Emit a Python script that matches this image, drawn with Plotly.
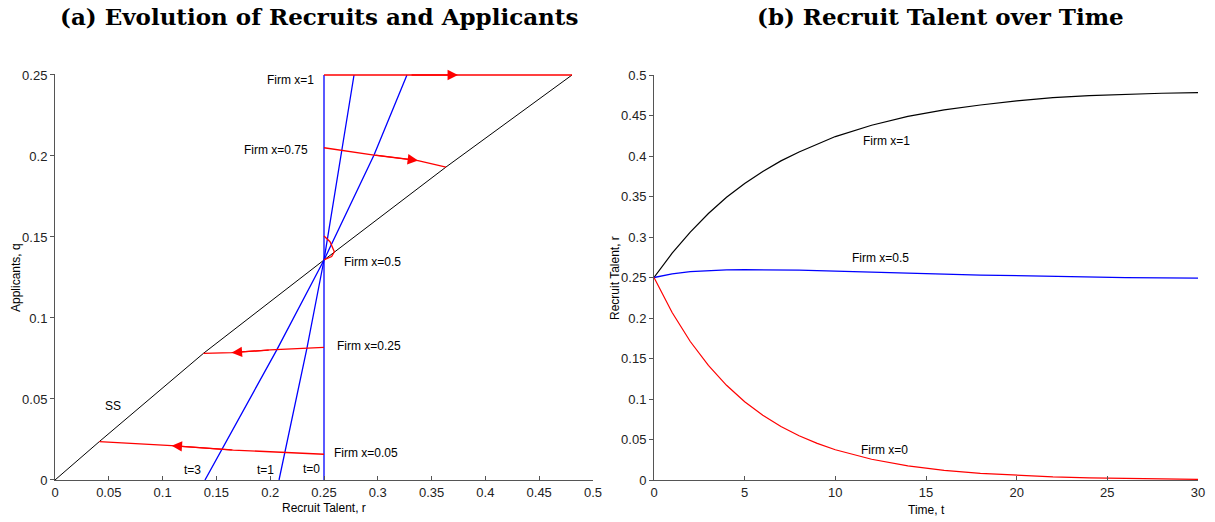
import plotly.graph_objects as go

# ---------------- Panel (a) data ----------------
ss_r = [0.0, 0.0412, 0.138, 0.25, 0.3634, 0.4805]
ss_q = [0.0, 0.0237, 0.0782, 0.1358, 0.1932, 0.25]

t0_r = [0.25, 0.25]
t0_q = [0.0, 0.25]
t1_r = [0.2082, 0.2342, 0.25, 0.2667, 0.2779]
t1_q = [0.0, 0.0815, 0.1358, 0.2037, 0.25]
t3_r = [0.1394, 0.206, 0.25, 0.2965, 0.3271]
t3_q = [0.0, 0.0802, 0.1358, 0.2006, 0.25]

f100_r = [0.25, 0.4805]
f100_q = [0.25, 0.25]
f075_r = [0.25, 0.2965, 0.3374, 0.3634]
f075_q = [0.2051, 0.2006, 0.1972, 0.1932]
f050_r = [0.25, 0.2556, 0.2596, 0.2571, 0.2509, 0.25]
f050_q = [0.1506, 0.1471, 0.1409, 0.1379, 0.1362, 0.1358]
f025_r = [0.25, 0.2, 0.1642, 0.138]
f025_q = [0.0819, 0.0803, 0.0786, 0.0782]
f005_r = [0.25, 0.1657, 0.1084, 0.0412]
f005_q = [0.0159, 0.0185, 0.0212, 0.0237]

# arrows: (tip_r, tip_q, tail_r, tail_q)
arrows = [
    (0.3745, 0.25, 0.33, 0.25),
    (0.3374, 0.1972, 0.2965, 0.2006),
    (0.1642, 0.0786, 0.2, 0.0803),
    (0.1084, 0.0212, 0.1657, 0.0185),
]

a_xticks = [0, 0.05, 0.1, 0.15, 0.2, 0.25, 0.3, 0.35, 0.4, 0.45, 0.5]
a_xticktext = ["0", "0.05", "0.1", "0.15", "0.2", "0.25", "0.3", "0.35", "0.4", "0.45", "0.5"]
a_yticks = [0, 0.05, 0.1, 0.15, 0.2, 0.25]
a_yticktext = ["0", "0.05", "0.1", "0.15", "0.2", "0.25"]

# ---------------- Panel (b) data ----------------
time_t = [0, 1, 2, 3, 4, 5, 6, 7, 8, 9, 10, 12, 14, 16, 18, 20, 22, 24, 26, 28, 30]
r_x1 = [0.250, 0.280, 0.306, 0.329, 0.349, 0.366, 0.381, 0.394, 0.405, 0.415, 0.424,
        0.438, 0.449, 0.457, 0.463, 0.468, 0.472, 0.4745, 0.4762, 0.4775, 0.4783]
r_x05 = [0.250, 0.2545, 0.2572, 0.2587, 0.2594, 0.2597, 0.2597, 0.2594, 0.2590, 0.2585, 0.2580,
         0.2568, 0.2555, 0.2542, 0.2530, 0.2520, 0.2511, 0.2504, 0.2499, 0.2495, 0.2492]
r_x0 = [0.250, 0.2068, 0.1710, 0.1414, 0.1169, 0.0967, 0.0800, 0.0661, 0.0547, 0.0452, 0.0374,
        0.0256, 0.0175, 0.0120, 0.0082, 0.0056, 0.0038, 0.0026, 0.0018, 0.0012, 0.0008]

b_xticks = [0, 5, 10, 15, 20, 25, 30]
b_yticks = [0, 0.05, 0.1, 0.15, 0.2, 0.25, 0.3, 0.35, 0.4, 0.45, 0.5]
b_yticktext = ["0", "0.05", "0.1", "0.15", "0.2", "0.25", "0.3", "0.35", "0.4", "0.45", "0.5"]

RED = "#ff0000"
BLUE = "#0000ff"
BLACK = "#000000"
AX = "#555555"
FONT = "Liberation Sans, Arial, sans-serif"

fig = go.Figure()

def line(x, y, color, width, xa="x", ya="y"):
    fig.add_trace(go.Scatter(x=x, y=y, mode="lines", line=dict(color=color, width=width),
                             xaxis=xa, yaxis=ya, showlegend=False, hoverinfo="skip"))

line(ss_r, ss_q, BLACK, 1)
line(t0_r, t0_q, BLUE, 1.3)
line(t1_r, t1_q, BLUE, 1.3)
line(t3_r, t3_q, BLUE, 1.3)
line(f100_r, f100_q, RED, 1.6)
line(f075_r, f075_q, RED, 1.3)
line(f050_r, f050_q, RED, 1.3)
line(f025_r, f025_q, RED, 1.3)
line(f005_r, f005_q, RED, 1.3)

line(time_t, r_x1, BLACK, 1.2, "x2", "y2")
line(time_t, r_x05, BLUE, 1.3, "x2", "y2")
line(time_t, r_x0, RED, 1.2, "x2", "y2")

for tip_r, tip_q, tail_r, tail_q in arrows:
    fig.add_annotation(x=tip_r, y=tip_q, ax=tail_r, ay=tail_q, xref="x", yref="y",
                       axref="x", ayref="y", text="", showarrow=True, arrowhead=2,
                       arrowsize=1.6, arrowwidth=1.3, arrowcolor=RED, standoff=0, startstandoff=0)

def label(x, y, text, xanchor="center", xref="x", yref="y", size=12, angle=0):
    fig.add_annotation(x=x, y=y, xref=xref, yref=yref, text=text, showarrow=False,
                       xanchor=xanchor, yanchor="middle", textangle=angle,
                       font=dict(family=FONT, size=size, color="#000000"))

label(0.2426, 0.2469, "Firm x=1", "right")
label(0.237, 0.2037, "Firm x=0.75", "right")
label(0.2667, 0.1346, "Firm x=0.5", "left")
label(0.2602, 0.0827, "Firm x=0.25", "left")
label(0.2574, 0.0167, "Firm x=0.05", "left")
label(0.0539, 0.0457, "SS")
label(0.128, 0.0062, "t=3")
label(0.196, 0.0062, "t=1")
label(0.238, 0.0068, "t=0")

label(12.8, 0.4185, "Firm x=1", xref="x2", yref="y2")
label(12.5, 0.274, "Firm x=0.5", xref="x2", yref="y2")
label(12.7, 0.037, "Firm x=0", xref="x2", yref="y2")

W, H = 1215, 522
def px(xp):
    return xp / W
def py(yp):
    return 1 - yp / H

# axis titles
label(px(324), py(508), "Recruit Talent, r", xref="paper", yref="paper")
label(px(16), py(278), "Applicants, q", xref="paper", yref="paper", angle=-90)
label(px(926), py(510), "Time, t", xref="paper", yref="paper")
label(px(615), py(278), "Recruit Talent, r", xref="paper", yref="paper", angle=-90)

# panel titles
TFONT = dict(family="DejaVu Serif, serif", size=23, color="#000000")
fig.add_annotation(x=px(319), y=py(16), xref="paper", yref="paper", showarrow=False,
                   text="<b>(a) Evolution of Recruits and Applicants</b>", font=TFONT,
                   xanchor="center", yanchor="middle", borderpad=0)
fig.add_annotation(x=px(940), y=py(16), xref="paper", yref="paper", showarrow=False,
                   text="<b>(b) Recruit Talent over Time</b>", font=TFONT,
                   xanchor="center", yanchor="middle", borderpad=0)

common = dict(showgrid=False, zeroline=False, showline=True, linecolor=AX, linewidth=1,
              tickcolor=AX, ticklen=4, tickwidth=1, automargin=False,
              tickfont=dict(family=FONT, size=13, color="#222222"))

# small headroom so the line drawn at the top value is not clipped
a_ytop = 0.2506
a_top_px = 480 - (480 - 75) * a_ytop / 0.25

fig.update_layout(
    width=W, height=H, margin=dict(l=0, r=0, t=0, b=0, autoexpand=False),
    paper_bgcolor="white", plot_bgcolor="white",
    xaxis=dict(domain=[px(55), px(593)], range=[0, 0.5], tickvals=a_xticks, ticktext=a_xticktext,
               ticks="inside", anchor="y", **common),
    yaxis=dict(domain=[py(480), py(a_top_px)], range=[0, a_ytop], tickvals=a_yticks,
               ticktext=a_yticktext, ticks="outside", anchor="x", **common),
    xaxis2=dict(domain=[px(654), px(1198)], range=[0, 30], tickvals=b_xticks,
                ticks="inside", anchor="y2", **common),
    yaxis2=dict(domain=[py(480), py(75)], range=[0, 0.5], tickvals=b_yticks, ticktext=b_yticktext,
                ticks="outside", anchor="x2", **common),
)

fig.write_html("out.html")
